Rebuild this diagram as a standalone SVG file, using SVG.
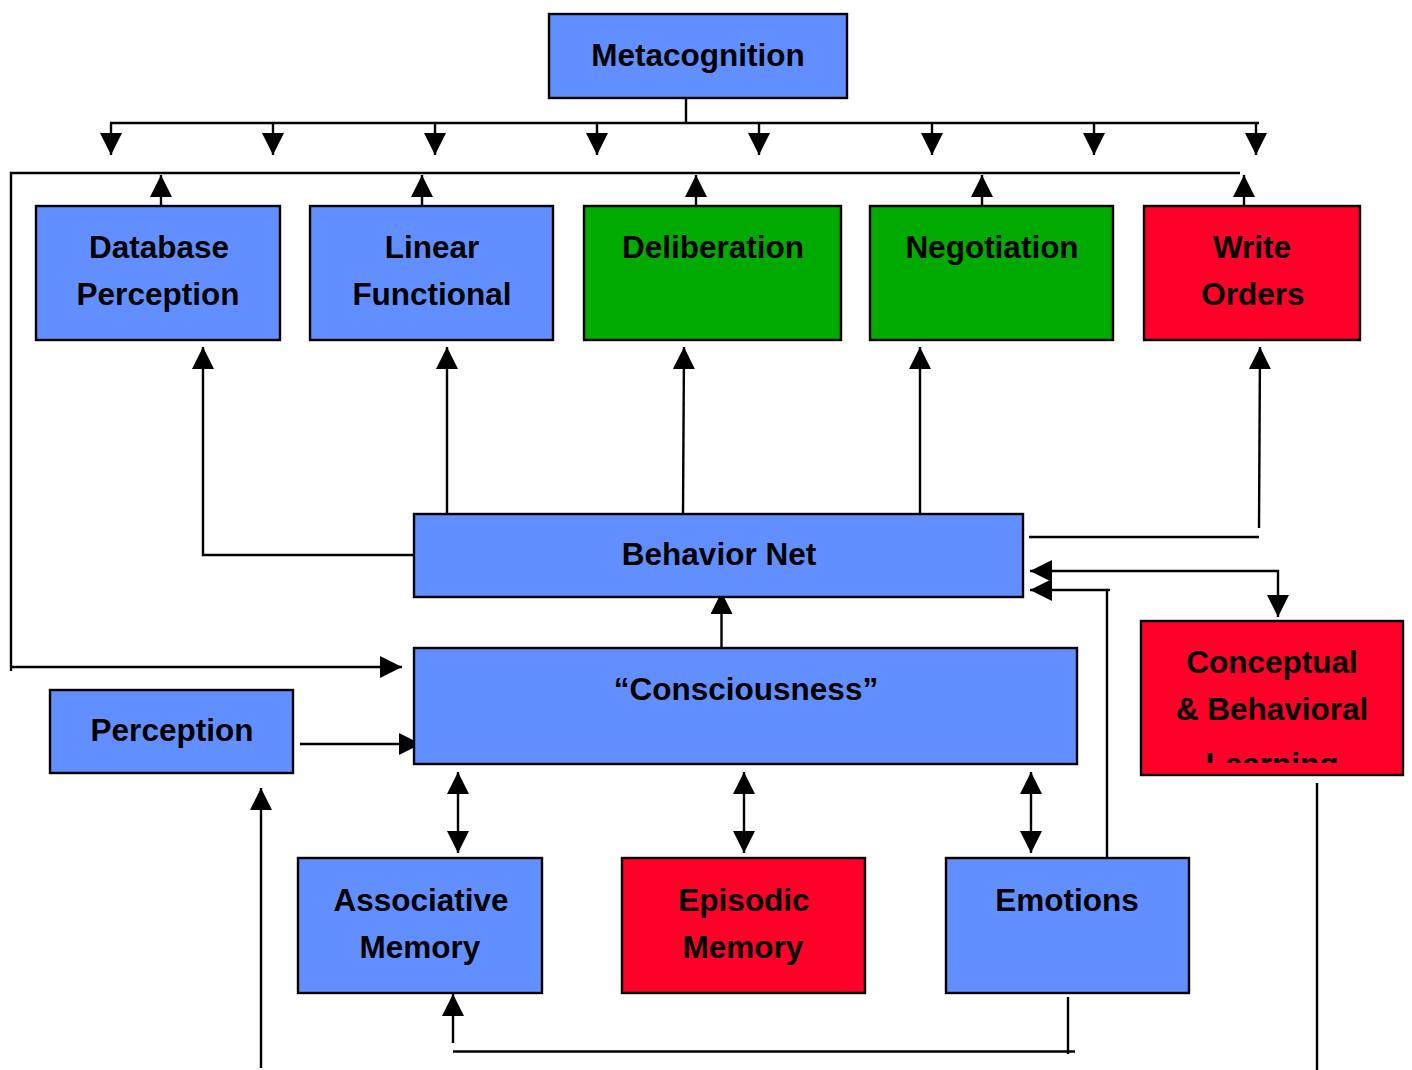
<svg xmlns="http://www.w3.org/2000/svg" width="1412" height="1070" viewBox="0 0 1412 1070">
<style>
.box{stroke:#000;stroke-width:2.4}
.blue{fill:#628FFF}
.green{fill:#00AA00}
.red{fill:#FF0029}
.t{font-family:"Liberation Sans",Arial,sans-serif;font-weight:bold;font-size:31.5px;fill:#000;text-anchor:middle}
.c{fill:none;stroke:#000;stroke-width:2.4}
.a{marker-end:url(#ah)}
.aa{marker-end:url(#ah);marker-start:url(#ah)}
</style>
<defs>
<marker id="ah" markerUnits="userSpaceOnUse" markerWidth="22" markerHeight="22" viewBox="0 0 22 22" refX="22" refY="11" orient="auto-start-reverse">
<path d="M0,0 L22,11 L0,22 z" fill="#000"/>
</marker>
<clipPath id="clipL"><rect x="1141" y="621" width="262" height="142"/></clipPath>
</defs>
<g id="connectors">
<path class="c" d="M686,98 L686,123"/>
<path class="c" d="M110,123 L1259,123"/>
<path class="c a" d="M111,123 L111,155"/>
<path class="c a" d="M273,123 L273,155"/>
<path class="c a" d="M435,123 L435,155"/>
<path class="c a" d="M597,123 L597,155"/>
<path class="c a" d="M759,123 L759,155"/>
<path class="c a" d="M932,123 L932,155"/>
<path class="c a" d="M1094,123 L1094,155"/>
<path class="c a" d="M1256,123 L1256,155"/>
<path class="c" d="M1240,173 L11,173 L11,671"/>
<path class="c a" d="M11,667 L402,667"/>
<path class="c a" d="M161,206 L161,175"/>
<path class="c a" d="M422,206 L422,175"/>
<path class="c a" d="M696,206 L696,175"/>
<path class="c a" d="M982,206 L982,175"/>
<path class="c a" d="M1244,206 L1244,175"/>
<path class="c a" d="M414,555 L203,555 L203,347"/>
<path class="c a" d="M447,514 L447,347"/>
<path class="c a" d="M683,514 L684,347"/>
<path class="c a" d="M920,514 L920,347"/>
<path class="c a" d="M1259,528 L1260,347"/>
<path class="c" d="M1029,537 L1259,537"/>
<path class="c aa" d="M1278,617 L1278,571 L1030,571"/>
<path class="c a" d="M1107,858 L1107,590 L1030,590"/>
<path class="c" d="M1107,590 L1110,590"/>
<path class="c a" d="M721.5,657 L721.5,592"/>
<path class="c a" d="M300,744 L421,744"/>
<path class="c aa" d="M458,772 L458,853"/>
<path class="c aa" d="M744,772 L744,853"/>
<path class="c aa" d="M1031,772 L1031,853"/>
<path class="c" d="M1068,997 L1068,1054"/>
<path class="c" d="M1075,1051.5 L453,1051.5"/>
<path class="c a" d="M453,1043 L453,994"/>
<path class="c a" d="M261,1068 L261,788"/>
<path class="c" d="M1317,783 L1317,1070"/>
</g>
<g id="metacognition"><rect class="box blue" x="549" y="14" width="298" height="84"/><text class="t" x="698" y="66">Metacognition</text></g>
<g id="database-perception"><rect class="box blue" x="36" y="206" width="244" height="134"/><text class="t" x="159" y="258">Database</text><text class="t" x="158" y="305">Perception</text></g>
<g id="linear-functional"><rect class="box blue" x="310" y="206" width="243" height="134"/><text class="t" x="432" y="258">Linear</text><text class="t" x="432" y="305">Functional</text></g>
<g id="deliberation"><rect class="box green" x="584" y="206" width="257" height="134"/><text class="t" x="713" y="258">Deliberation</text></g>
<g id="negotiation"><rect class="box green" x="870" y="206" width="243" height="134"/><text class="t" x="992" y="258">Negotiation</text></g>
<g id="write-orders"><rect class="box red" x="1144" y="206" width="216" height="134"/><text class="t" x="1252" y="258">Write</text><text class="t" x="1253" y="305">Orders</text></g>
<g id="behavior-net"><rect class="box blue" x="414" y="514" width="609" height="83"/><text class="t" x="719" y="565">Behavior Net</text></g>
<g id="consciousness"><rect class="box blue" x="414" y="648" width="663" height="116"/><text class="t" x="746" y="700">“Consciousness”</text></g>
<g id="perception"><rect class="box blue" x="50" y="690" width="243" height="83"/><text class="t" x="172" y="741">Perception</text></g>
<g id="conceptual-behavioral-learning"><rect class="box red" x="1141" y="621" width="262" height="154"/><text class="t" x="1272" y="673">Conceptual</text><text class="t" x="1272" y="720">&amp; Behavioral</text><text class="t" x="1272" y="775" clip-path="url(#clipL)">Learning</text></g>
<g id="associative-memory"><rect class="box blue" x="298" y="858" width="244" height="135"/><text class="t" x="421" y="911">Associative</text><text class="t" x="420" y="958">Memory</text></g>
<g id="episodic-memory"><rect class="box red" x="622" y="858" width="243" height="135"/><text class="t" x="744" y="911">Episodic</text><text class="t" x="743" y="958">Memory</text></g>
<g id="emotions"><rect class="box blue" x="946" y="858" width="243" height="135"/><text class="t" x="1067" y="911">Emotions</text></g>
</svg>
